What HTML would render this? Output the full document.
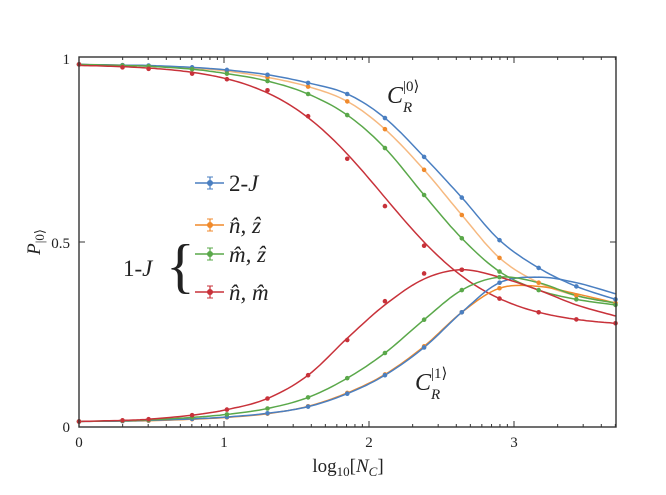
<!DOCTYPE html>
<html><head><meta charset="utf-8"><style>
body{margin:0;background:#fff;width:666px;height:495px;overflow:hidden}
svg{display:block}
text{font-family:"Liberation Serif",serif;fill:#222}
</style></head><body>
<svg id="s" width="666" height="495" xmlns="http://www.w3.org/2000/svg">
<g id="g"></g>
<rect x="79" y="57" width="537" height="370" fill="none" stroke="#333" stroke-width="1.4"/>
<g id="ticks" stroke="#333" stroke-width="1"></g>
<text x="70" y="64" font-size="15" text-anchor="end">1</text>
<text x="70" y="248" font-size="15" text-anchor="end">0.5</text>
<text x="70" y="432" font-size="15" text-anchor="end">0</text>
<text x="79" y="447" font-size="15" text-anchor="middle">0</text>
<text x="224" y="447" font-size="15" text-anchor="middle">1</text>
<text x="369" y="447" font-size="15" text-anchor="middle">2</text>
<text x="514" y="447" font-size="15" text-anchor="middle">3</text>
<text x="348" y="472" font-size="19" text-anchor="middle">log<tspan font-size="13" dy="4">10</tspan><tspan dy="-4">[</tspan><tspan font-style="italic">N</tspan><tspan font-size="13" dy="4" font-style="italic">C</tspan><tspan dy="-4">]</tspan></text>
<text transform="translate(40,242) rotate(-90)" font-size="19" text-anchor="middle"><tspan font-style="italic">P</tspan><tspan font-size="13" dy="4">|0⟩</tspan></text>
<text x="387" y="103" font-size="24" font-style="italic">C</text><text x="403" y="112" font-size="15" font-style="italic">R</text><text x="403" y="91" font-size="15">|0⟩</text>
<text x="415" y="390" font-size="24" font-style="italic">C</text><text x="431" y="399" font-size="15" font-style="italic">R</text><text x="431" y="378" font-size="15">|1⟩</text>
<text x="229" y="191" font-size="23">2-<tspan font-style="italic">J</tspan></text>
<text x="229" y="233" font-size="23" font-style="italic">n̂, ẑ</text>
<text x="229" y="262" font-size="23" font-style="italic">m̂, ẑ</text>
<text x="229" y="300" font-size="23" font-style="italic">n̂, m̂</text>
<text x="123" y="276" font-size="23">1-<tspan font-style="italic">J</tspan></text>
<text x="166" y="286" font-size="60">{</text>
</svg>
<script>
const X=[0,0.3,0.48,0.78,1.02,1.3,1.58,1.85,2.11,2.38,2.64,2.9,3.17,3.43,3.7];
const px=x=>79+x*145, py=y=>427-y*370;
const C={b:"#4a7fc1",o:"#f08a2c",g:"#5aa84a",r:"#c8323a"};
const rf=x=>0.27+0.71/(1+Math.exp((x-2.1)/0.38));
const S=[
["o",[0.98,0.978,0.976,0.97,0.962,0.945,0.92,0.88,0.805,0.695,0.573,0.457,0.39,0.355,0.335],0.6],
["b",[0.98,0.978,0.977,0.972,0.965,0.952,0.93,0.90,0.835,0.73,0.62,0.505,0.43,0.38,0.345],1],
["g",[0.98,0.977,0.975,0.967,0.955,0.935,0.9,0.843,0.754,0.627,0.51,0.42,0.37,0.345,0.33],1],
["r",null,1,[0.98,0.972,0.968,0.955,0.94,0.91,0.84,0.725,0.597,0.49,0.425,rf(2.9),rf(3.17),rf(3.43),rf(3.7)]],
["o",[0.015,0.016,0.017,0.021,0.026,0.036,0.056,0.092,0.142,0.218,0.31,0.375,0.38,0.36,0.335],1],
["b",[0.015,0.016,0.018,0.022,0.027,0.037,0.055,0.09,0.14,0.215,0.31,0.39,0.405,0.39,0.36],1],
["g",[0.015,0.017,0.019,0.026,0.034,0.05,0.08,0.132,0.2,0.29,0.37,0.405,0.39,0.355,0.335],1],
["r",[0.015,0.018,0.021,0.032,0.047,0.077,0.14,0.24,0.33,0.40,0.425,0.405,0.37,0.33,0.30],1,[0.015,0.018,0.021,0.032,0.047,0.077,0.14,0.235,0.34,0.415,0.425]]
];
let h="";
function cr(v){let p=[];const n=v.length;for(let i=0;i<n-1;i++){const y0=v[Math.max(i-1,0)],y1=v[i],y2=v[i+1],y3=v[Math.min(i+2,n-1)];const x0=X[Math.max(i-1,0)],x1=X[i],x2=X[i+1],x3=X[Math.min(i+2,n-1)];for(let t=0;t<1;t+=0.1){const t2=t*t,t3=t2*t;const f=(a,b,c,d)=>0.5*(2*b+(-a+c)*t+(2*a-5*b+4*c-d)*t2+(-a+3*b-3*c+d)*t3);p.push(px(f(x0,x1,x2,x3)).toFixed(1)+","+py(f(y0,y1,y2,y3)).toFixed(1));}}p.push(px(X[n-1])+","+py(v[n-1]));return p.join(" ");}
function redUp(){let p=[];for(let x=0;x<=3.7001;x+=0.02){p.push(px(x).toFixed(1)+","+py(rf(x)).toFixed(1));}return p.join(" ");}
S.forEach(s=>{const pts=s[1]?cr(s[1]):redUp();h+=`<polyline points="${pts}" fill="none" stroke="${C[s[0]]}" stroke-width="1.5" opacity="${s[2]}"/>`;});
S.forEach((s,k)=>{const m=s[3]||s[1];const lim=k>=4?12:15;m.forEach((v,i)=>{if(i<lim)h+=`<circle cx="${px(X[i])}" cy="${py(v)}" r="2.3" fill="${C[s[0]]}"/>`;});});
[["b",183],["o",225],["g",254],["r",292]].forEach(([c,y])=>{h+=`<line x1="195" y1="${y}" x2="224" y2="${y}" stroke="${C[c]}" stroke-width="1.5"/><line x1="210" y1="${y-6}" x2="210" y2="${y+6}" stroke="${C[c]}" stroke-width="1.2"/><line x1="207" y1="${y-6}" x2="213" y2="${y-6}" stroke="${C[c]}"/><line x1="207" y1="${y+6}" x2="213" y2="${y+6}" stroke="${C[c]}"/><circle cx="210" cy="${y}" r="3" fill="${C[c]}"/>`;});
document.getElementById("g").innerHTML=h;
let t="";
for(let d=0;d<4;d++)for(let k=1;k<10;k++){const x=d+Math.log10(k);if(x>3.7)continue;const L=k==1?6:3;const xx=px(x);t+=`<line x1="${xx}" y1="427" x2="${xx}" y2="${427-L}"/><line x1="${xx}" y1="57" x2="${xx}" y2="${57+L}"/>`;}
[0,0.5,1].forEach(v=>{const y=py(v);t+=`<line x1="79" y1="${y}" x2="85" y2="${y}"/><line x1="616" y1="${y}" x2="610" y2="${y}"/>`;});
document.getElementById("ticks").innerHTML=t;
</script>
</body></html>
